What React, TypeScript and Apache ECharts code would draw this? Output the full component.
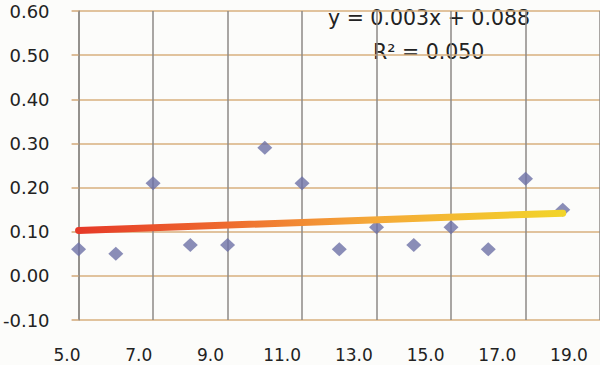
import React, { useEffect, useRef } from "react";
import * as echarts from "echarts";

const xValues = [5, 6, 7, 8, 9, 10, 11, 12, 13, 14, 15, 16, 17, 18];
const yValues = [0.06, 0.05, 0.21, 0.07, 0.07, 0.29, 0.21, 0.06, 0.11, 0.07, 0.11, 0.06, 0.22, 0.15];
const trendSlope = 0.003;
const trendIntercept = 0.088;
const trendRange = [5, 18];
const equationText = "y = 0.003x + 0.088";
const r2Text = "R² = 0.050";

export default function App() {
  const ref = useRef<HTMLDivElement>(null);
  useEffect(() => {
    if (!ref.current) return;
    const chart = echarts.init(ref.current, null, { renderer: "svg" });
    const font = "'DejaVu Sans', Verdana, sans-serif";
    const trendData = trendRange.map((x) => [x, trendSlope * x + trendIntercept]);
    chart.setOption({
      animation: false,
      backgroundColor: "#fcfcfa",
      grid: [
        { left: 76, right: -1, top: 11, bottom: 45 },
        { left: 67, right: 31, top: 11, bottom: 45 },
      ],
      xAxis: [
        {
          type: "value",
          gridIndex: 0,
          min: 5,
          max: 19,
          interval: 2,
          axisLine: { show: false },
          axisTick: { show: false },
          axisLabel: { show: false },
          splitLine: { show: true, lineStyle: { color: "#8e8a86", width: 1.5 } },
        },
        {
          type: "value",
          gridIndex: 1,
          min: 5,
          max: 19,
          interval: 2,
          axisLine: { show: false },
          axisTick: { show: false },
          splitLine: { show: false },
          axisLabel: {
            show: true,
            margin: 26,
            fontFamily: font,
            fontSize: 17,
            color: "#222",
            formatter: (v: number) => v.toFixed(1),
          },
        },
      ],
      yAxis: [
        {
          type: "value",
          gridIndex: 0,
          min: -0.1,
          max: 0.6,
          interval: 0.1,
          axisLine: { show: true, lineStyle: { color: "#8e8a86", width: 1.5 } },
          axisTick: { show: true, length: 7, lineStyle: { color: "#d2a878", width: 1.5 } },
          axisLabel: {
            margin: 29,
            fontFamily: font,
            fontSize: 18,
            color: "#222",
            formatter: (v: number) => v.toFixed(2),
          },
          splitLine: { show: true, lineStyle: { color: "#d8b07e", width: 1.5 } },
        },
        {
          type: "value",
          gridIndex: 1,
          min: -0.1,
          max: 0.6,
          show: false,
        },
      ],
      graphic: [
        {
          type: "text",
          left: 328,
          top: 7,
          style: { text: equationText, fontFamily: font, fontSize: 20.5, fill: "#222" },
        },
        {
          type: "text",
          left: 373,
          top: 41,
          style: { text: r2Text, fontFamily: font, fontSize: 20.5, fill: "#222" },
        },
      ],
      series: [
        {
          type: "scatter",
          xAxisIndex: 0,
          yAxisIndex: 0,
          data: xValues.map((x, i) => [x, yValues[i]]),
          symbol: "diamond",
          symbolSize: [15, 14],
          itemStyle: { color: "#6d70a6" },
          z: 2,
        },
        {
          type: "line",
          xAxisIndex: 0,
          yAxisIndex: 0,
          data: trendData,
          symbol: "none",
          z: 3,
          lineStyle: {
            width: 7,
            cap: "round",
            color: new echarts.graphic.LinearGradient(0, 0, 1, 0, [
              { offset: 0, color: "#e63a28" },
              { offset: 0.3, color: "#ee6a2e" },
              { offset: 0.6, color: "#f5a838" },
              { offset: 1, color: "#f2d42a" },
            ]),
          },
        },
      ],
    });
    return () => chart.dispose();
  }, []);
  return (
    <div
      ref={ref}
      style={{ position: "absolute", left: 0, top: 0, width: 600, height: 365 }}
    />
  );
}
